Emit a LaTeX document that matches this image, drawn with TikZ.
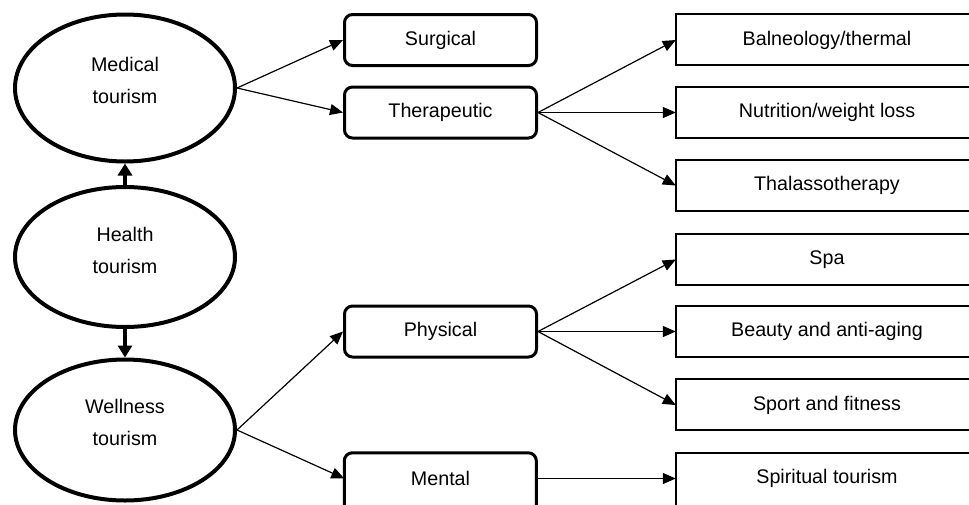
\documentclass[tikz,border=0pt]{standalone}
\usepackage{fontspec}
\setmainfont{Liberation Sans}
\usetikzlibrary{shapes.geometric,arrows.meta}
\begin{document}
\begin{tikzpicture}[x=1pt,y=-1pt,
 font=\fontsize{19.7}{32}\selectfont,
 ell/.style={ellipse,draw,line width=4pt,minimum width=220pt,inner sep=0pt},
 etext/.style={align=center,inner sep=0pt},
 rbox/.style={draw,rounded corners=8pt,line width=3pt,minimum width=192pt,minimum height=51pt,inner sep=0pt},
 rtext/.style={minimum width=192pt,minimum height=51pt,inner sep=0pt},
 rline/.style={draw,rounded corners=8pt,line width=3pt},
 sbox/.style={minimum width=302pt,minimum height=51pt,inner sep=0pt},
 sline/.style={draw,line width=2.2pt},
 arr/.style={line width=1.2pt,-{Triangle[length=13pt,width=11pt]}},
 varr/.style={line width=3.5pt,-{Triangle[length=12pt,width=14pt]}}]
\useasboundingbox (0,0) rectangle (969,504);
\clip (0,0) rectangle (969,504);
% ellipses
\node[ell,minimum height=147pt] (med) at (125,88) {};
\node[etext] (medt) at (125,80) {Medical\\tourism};
\node[ell,minimum height=140pt] (hea) at (125,257) {};
\node[etext] (heat) at (125,250) {Health\\tourism};
\node[ell,minimum height=141pt] (wel) at (125,430) {};
\node[etext] (welt) at (125,422) {Wellness\\tourism};
% middle boxes
\node[rbox] (sur) at (440.5,40) {Surgical};
\node[rbox] (the) at (440.5,112.5) {Therapeutic};
\node[rbox] (phy) at (440.5,331.5) {Physical};
\node[rtext] (men) at (440.5,478.5) {Mental};
\draw[rline] (men.north west) rectangle ++(192,70);
% right boxes (cut by the right edge of the picture)
\node[sbox] (bal) at (827,40) {Balneology/thermal};
\node[sbox] (nut) at (827,112.5) {Nutrition/weight loss};
\node[sbox] (tha) at (827,185.5) {Thalassotherapy};
\node[sbox] (spa) at (827,259.5) {Spa};
\node[sbox] (bea) at (827,331.5) {Beauty and anti-aging};
\node[sbox] (spo) at (827,405) {Sport and fitness};
\node[sbox] (spi) at (827,478.5) {Spiritual tourism};
\foreach \b in {bal,nut,tha,spa,bea,spo}
  \draw[sline] (\b.north west) rectangle ++(340,51);
\draw[sline] (spi.north west) rectangle ++(340,70);
% vertical arrows
\draw[varr] (hea.north) -- (med.south);
\draw[varr] (hea.south) -- (wel.north);
% connectors
\draw[arr] (med.east) -- (sur.west);
\draw[arr] (med.east) -- (the.west);
\draw[arr] (the.east) -- (bal.west);
\draw[arr] (the.east) -- (nut.west);
\draw[arr] (the.east) -- (tha.west);
\draw[arr] (wel.east) -- (phy.west);
\draw[arr] (wel.east) -- (men.west);
\draw[arr] (phy.east) -- (spa.west);
\draw[arr] (phy.east) -- (bea.west);
\draw[arr] (phy.east) -- (spo.west);
\draw[arr] (men.east) -- (spi.west);
\end{tikzpicture}
\end{document}
